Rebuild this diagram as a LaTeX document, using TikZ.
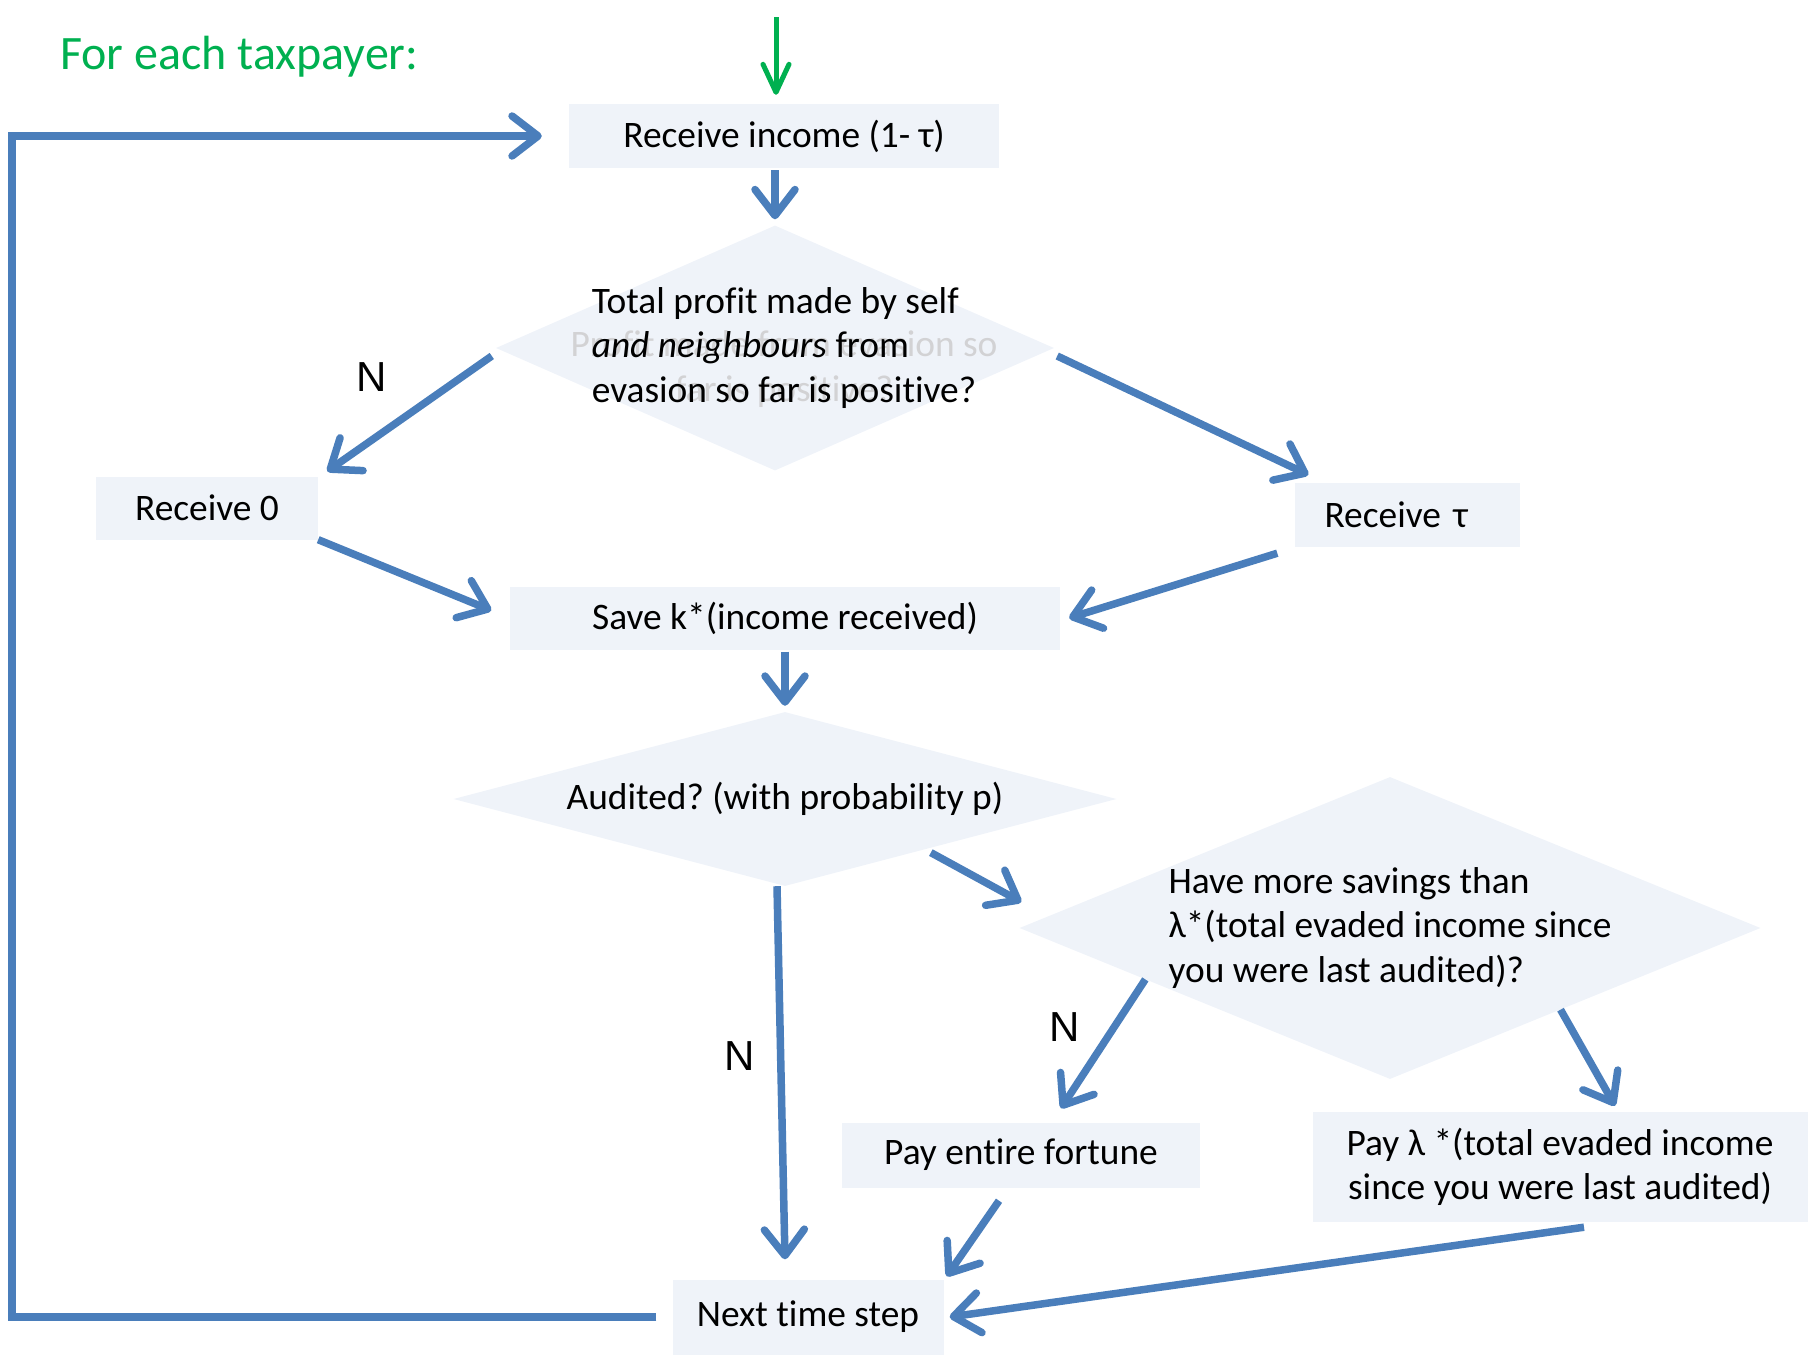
\documentclass[tikz,border=0pt]{standalone}
\usepackage{fontspec}
\setmainfont{Carlito}[Ligatures=NoCommon]
\newfontfamily\labelfont{Liberation Sans}
\usepackage{tikz}
\usetikzlibrary{arrows.meta, calc, shapes.geometric}
\frenchspacing

\definecolor{flowblue}{RGB}{74,126,187}
\definecolor{startgreen}{RGB}{0,176,80}
\definecolor{shapefill}{RGB}{239,243,249}
\definecolor{ghostgray}{RGB}{210,210,212}
\newcommand{\flowfont}{\fontsize{37.4}{44.6}\selectfont}

\tikzset{
  box/.style={rectangle, fill=shapefill, inner sep=0pt, font=\flowfont, align=center},
  decision/.style={diamond, fill=shapefill, inner sep=0pt},
  txt/.style={font=\flowfont, inner sep=0pt, align=left},
  nlabel/.style={font=\labelfont\fontsize{42}{50}\selectfont, inner sep=0pt},
  flow/.style={flowblue, line width=7.5pt, -{Straight Barb[length=26pt,width=40pt,round]}},
  startflow/.style={startgreen, line width=5pt, -{Straight Barb[length=28pt,width=26pt,round]}}
}

\begin{document}
\begin{tikzpicture}[x=1pt, y=-1pt]
    \useasboundingbox (0,0) rectangle (1816,1357);
    % heading and entry arrow
    \node[font=\fontsize{48}{54}\selectfont, text=startgreen, anchor=west, inner sep=0pt] (title) at (60,57) {For each taxpayer:};
    \coordinate (entry) at (776,17);
    % boxes
    \node[box, minimum width=430pt, minimum height=64pt] (rinc) at (784,136) {Receive income (1- τ)};
    \node[box, minimum width=222pt, minimum height=63pt] (r0) at (207,508) {Receive 0};
    \node[box, minimum width=225pt, minimum height=64pt, text width=165pt, align=left] (rtau) at (1407,515) {Receive τ};
    \node[box, minimum width=550pt, minimum height=63pt] (save) at (785,618) {Save k*(income received)};
    \node[box, minimum width=358pt, minimum height=65pt] (payall) at (1021,1155) {Pay entire fortune};
    \node[box, minimum width=495pt, minimum height=110pt] (paylam) at (1560,1167) {Pay λ *(total evaded income\\ since you were last audited)};
    \node[box, minimum width=271pt, minimum height=75pt] (next) at (808,1317) {Next time step};
    % decisions
    \node[decision, minimum width=558pt, minimum height=245pt] (d1) at (775,348) {};
    \node[decision, minimum width=663pt, minimum height=174pt] (d2) at (785,799) {};
    \node[decision, minimum width=741pt, minimum height=302pt] (d3) at (1390,928) {};
    % faded old text behind the first question
    \node[txt, align=center, text=ghostgray] (d1ghost) at ([xshift=9pt,yshift=-21pt]d1.center) {Profit made from evasion so\\ far is positive?};
    \node[txt] (d1text) at ([xshift=9pt]d1.center) {Total profit made by self\\ \textit{and neighbours} from\\ evasion so far is positive?};
    \node[txt] (d2text) at (d2.center) {Audited? (with probability p)};
    \node[txt] (d3text) at (d3.center) {Have more savings than\\ λ*(total evaded income since\\ you were last audited)?};
    % no-branch labels
    \node[nlabel] (n1) at (372,377) {N};
    \node[nlabel] (n2) at (740,1056) {N};
    \node[nlabel] (n3) at (1065,1027) {N};
    % connectors
    \draw[startflow] (entry) -- ([yshift=9pt]rinc.north -| entry);
    \draw[flow, shorten <=2pt, shorten >=6pt] (rinc.south -| d1.north) -- (d1.north);
    \draw[flow] ([xshift=-4pt,yshift=-8pt]d1.west) -- ([xshift=9pt,yshift=5pt]r0.north east);
    \draw[flow] ([xshift=3pt,yshift=-8pt]d1.east) -- ([xshift=14pt,yshift=8pt]rtau.north west);
    \draw[flow, shorten >=20pt] (r0.south east) -- (save.west);
    \draw[flow] ([xshift=-17pt,yshift=-6pt]rtau.south west) -- ([xshift=9pt]save.east);
    \draw[flow, shorten <=2pt, shorten >=6pt] (save.south) -- (d2.north);
    \draw[flow] ([xshift=-20pt,yshift=-10pt]d2.south east) -- ([xshift=2pt,yshift=26pt]d3.west);
    \draw[flow] ([xshift=-8pt]d2.south) -- ([xshift=-23pt,yshift=20pt]next.north);
    \draw[flow] ($(d3.west)!0.34!(d3.south)$) -- ([xshift=40pt,yshift=14pt]payall.north);
    \draw[flow] ($(d3.south)!0.46!(d3.east)$) -- ([xshift=55pt,yshift=6pt]paylam.north);
    \draw[flow] ([xshift=-22pt,yshift=-13pt]payall.south) -- ([xshift=3pt,yshift=3pt]next.north east);
    \draw[flow] ([xshift=24pt,yshift=-5pt]paylam.south) -- ([xshift=6pt]next.east);
    % loop back to the start
    \coordinate (loopx) at (12,700);
    \draw[flow] ([xshift=-16pt]next.west) -| (loopx) |- ([xshift=-27pt]rinc.west);
\end{tikzpicture}
\end{document}
